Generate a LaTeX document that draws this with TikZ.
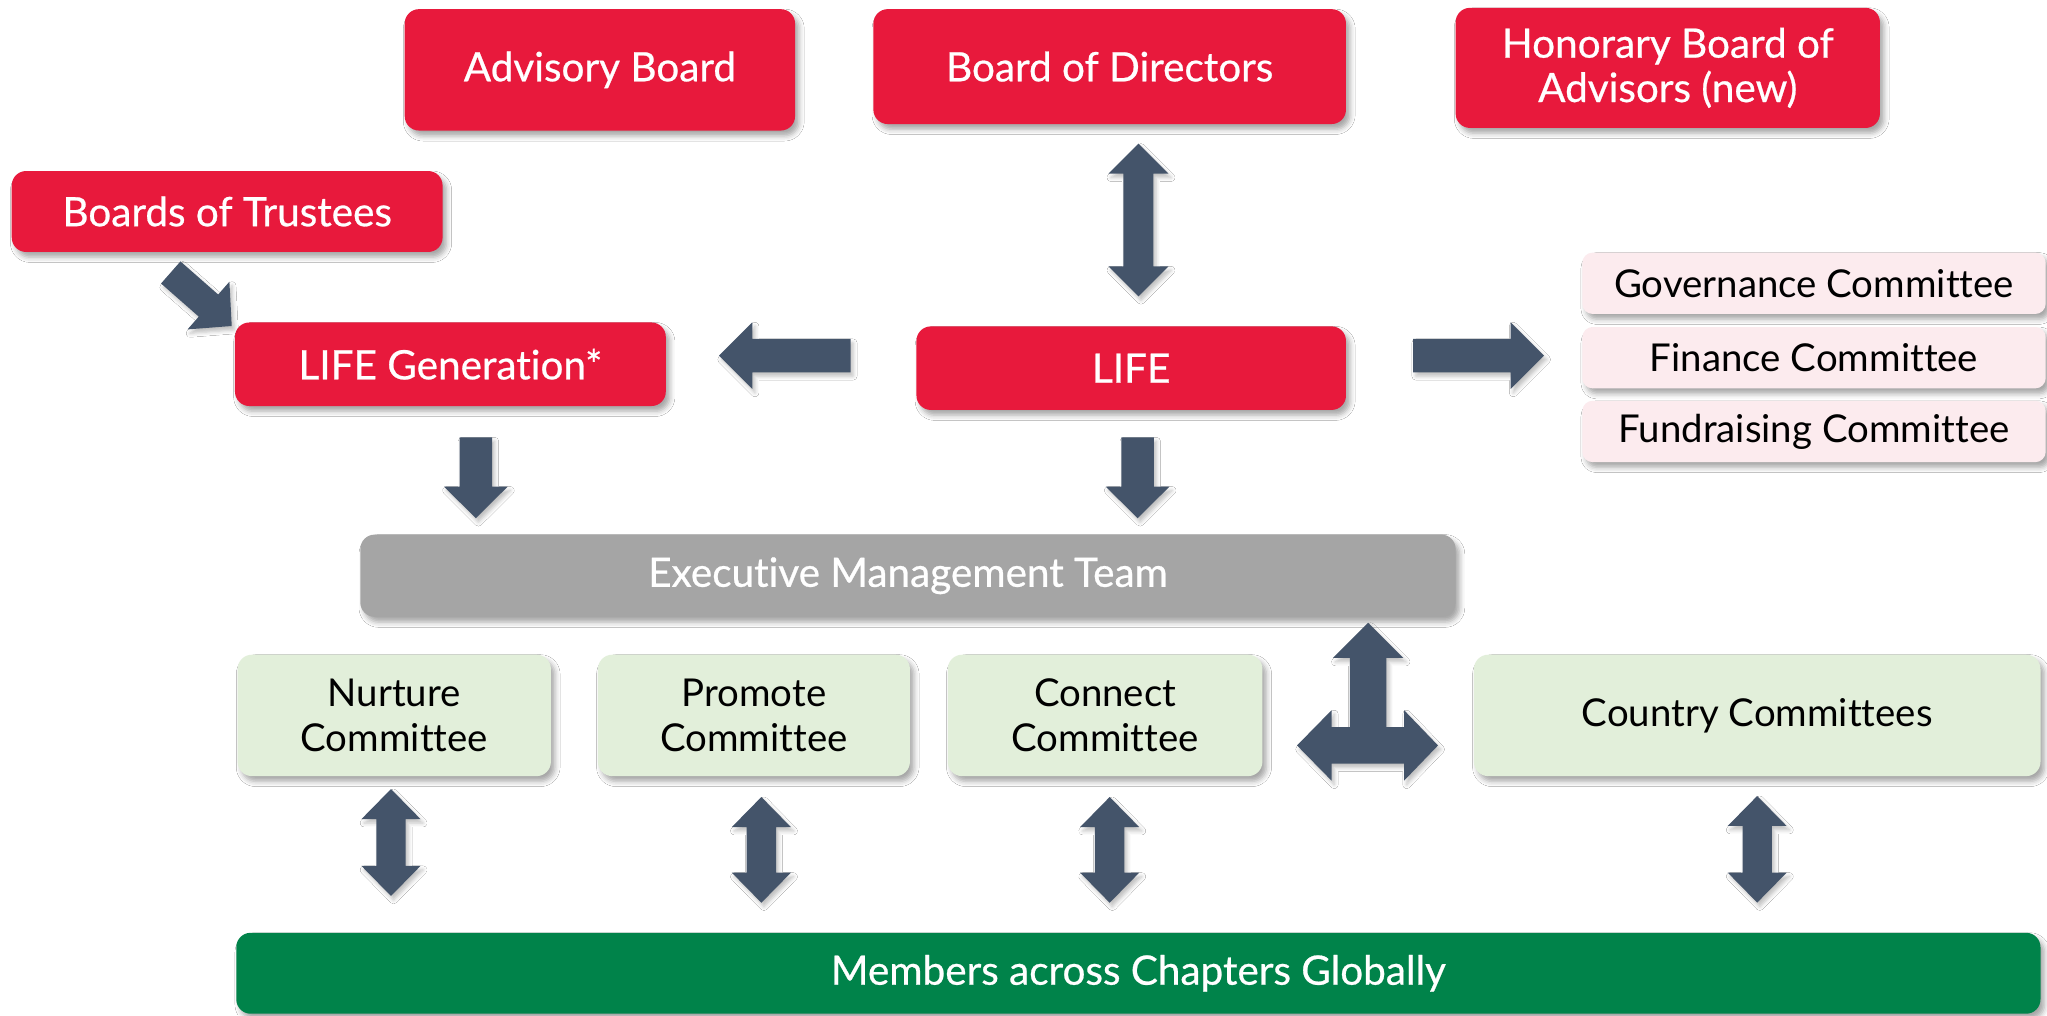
\documentclass[tikz,border=0pt]{standalone}
\usepackage{fontspec}
\setmainfont{Lato}[Ligatures=NoCommon]
\newfontface\medfont{Lato}[FakeBold=0.6,Ligatures=NoCommon]
\usetikzlibrary{calc,shadows.blur}
\definecolor{lifered}{HTML}{E8193C}
\definecolor{arrowc}{HTML}{44546A}
\definecolor{pinkc}{HTML}{FCEBEE}
\definecolor{lgreen}{HTML}{E2EFDA}
\definecolor{emtgray}{HTML}{A5A5A5}
\definecolor{dgreen}{HTML}{00834A}
\tikzset{
  shd/.style={blur shadow={shadow xshift=3pt,shadow yshift=-4pt,shadow blur radius=4pt,shadow opacity=35}},
  box/.style={rectangle, rounded corners=11pt, inner sep=0pt, align=center, shd},
  whitetext/.style={text=white, font=\medfont\fontsize{31}{34}\selectfont},
  blacktext/.style={text=black, font=\fontsize{29.4}{34}\selectfont},
  redbox/.style={box, fill=lifered, whitetext},
  pinkbox/.style={box, rounded corners=8pt, fill=pinkc, blacktext, minimum width=355pt, minimum height=47pt},
  greenbox/.style={box, fill=lgreen, blacktext, minimum height=93pt},
  graybox/.style={box, fill=emtgray, whitetext},
  dgbox/.style={box, fill=dgreen, whitetext},
  arrowsty/.style={fill=arrowc, blur shadow={shadow xshift=2pt,shadow yshift=-3pt,shadow blur radius=3pt,shadow opacity=25}}
}
% #1 tail, #2 tip, #3 shaft half, #4 head half, #5 head length
\newcommand\singlearrow[5]{%
  \coordinate (bac) at ($(#2)!#5!(#1)$);
  \fill[arrowsty] ($(#1)!#3!90:(#2)$) -- ($(bac)!#3!90:(#2)$) -- ($(bac)!#4!90:(#2)$)
    -- (#2) -- ($(bac)!#4!-90:(#2)$) -- ($(bac)!#3!-90:(#2)$) -- ($(#1)!#3!-90:(#2)$) -- cycle;}
% #1 tip A, #2 tip B
\newcommand\doublearrow[5]{%
  \coordinate (bac) at ($(#2)!#5!(#1)$);
  \coordinate (bad) at ($(#1)!#5!(#2)$);
  \fill[arrowsty] (#1) -- ($(bad)!#4!90:(#2)$) -- ($(bad)!#3!90:(#2)$) -- ($(bac)!#3!90:(#2)$) -- ($(bac)!#4!90:(#2)$)
    -- (#2) -- ($(bac)!#4!-90:(#2)$) -- ($(bac)!#3!-90:(#2)$) -- ($(bad)!#3!-90:(#2)$) -- ($(bad)!#4!-90:(#2)$) -- cycle;}
\begin{document}
\begin{tikzpicture}[x=1pt,y=-1pt]
\useasboundingbox[fill=white] (0,0) rectangle (1568,777.5);
% top row
\node[redbox, minimum width=299pt, minimum height=93pt] (ab) at (459.5,53.5) {Advisory Board};
\node[redbox, minimum width=362pt, minimum height=88pt] (bod) at (850,51) {Board of Directors};
\node[redbox, minimum width=325pt, minimum height=92pt] (hba) at (1277.5,52) {Honorary Board of\\Advisors (new)};
\node[redbox, minimum width=330pt, minimum height=62pt] (bot) at (174,162) {Boards of Trustees};
\node[redbox, minimum width=330pt, minimum height=64pt] (lg) at (345,279) {LIFE Generation*};
\node[redbox, minimum width=329pt, minimum height=64pt] (life) at (866.5,282) {LIFE};
% committees right
\node[pinkbox] (gov) at (1389.5,217) {Governance Committee};
\node[pinkbox] (fin) at (1389.5,274) {Finance Committee};
\node[pinkbox] (fund) at (1389.5,330.5) {Fundraising Committee};
% executive
\node[graybox, minimum width=839pt, minimum height=63pt] (emt) at (695.5,441) {Executive Management Team};
% green committees
\node[greenbox, minimum width=240pt] (nur) at (302,548) {Nurture\\Committee};
\node[greenbox, minimum width=239pt] (pro) at (577.5,548) {Promote\\Committee};
\node[greenbox, minimum width=241pt] (con) at (846.5,548) {Connect\\Committee};
\node[greenbox, minimum width=434pt] (cty) at (1346,548) {Country Committees};
% members
\node[dgbox, minimum width=1382pt, minimum height=62pt] (mem) at (872,745.5) {Members across Chapters Globally};
% arrow end points
\coordinate (bodT) at (872,110);
\coordinate (lifeT) at (872,227);
\coordinate (lifeL) at (651.5,272.4);
\coordinate (lgR) at (550.8,272.4);
\coordinate (lifeR) at (1082.5,272.4);
\coordinate (comL) at (1182.7,272.4);
\coordinate (lifeB) at (871.4,335);
\coordinate (emtT) at (871.4,397);
\coordinate (lgB) at (364.5,335);
\coordinate (emtTL) at (364.5,397);
\coordinate (botB) at (130.8,208.7);
\coordinate (lgT) at (177.5,249.7);
\coordinate (nurB) at (299.5,604.4);
\coordinate (memN) at (299.5,686.3);
\coordinate (proB) at (583.2,610.5);
\coordinate (memP) at (583.2,691.5);
\coordinate (conB) at (850,610.5);
\coordinate (memC) at (850,691.5);
\coordinate (ctyB) at (1346,609.7);
\coordinate (memY) at (1346,691.4);
% arrows
\doublearrow{bodT}{lifeT}{11.5pt}{23pt}{23pt}
\singlearrow{lifeL}{lgR}{12.75pt}{25.5pt}{25.5pt}
\singlearrow{lifeR}{comL}{12.75pt}{25.5pt}{25.5pt}
\singlearrow{lifeB}{emtT}{12.5pt}{24.4pt}{24.3pt}
\singlearrow{lgB}{emtTL}{12.5pt}{24.4pt}{24.3pt}
\singlearrow{botB}{lgT}{11.25pt}{24.3pt}{23.7pt}
\doublearrow{nurB}{memN}{11.25pt}{22.6pt}{23pt}
\doublearrow{proB}{memP}{11.25pt}{22.6pt}{23pt}
\doublearrow{conB}{memC}{11.25pt}{22.6pt}{23pt}
\doublearrow{ctyB}{memY}{11.25pt}{22.6pt}{23pt}
% tee arrow between executive team, connect and country committees
\fill[arrowsty] (1048,477) -- (1075,504) -- (1062,504) -- (1062,557) -- (1075.5,557) -- (1075.5,544)
  -- (1101.5,571) -- (1075.5,598) -- (1075.5,585) -- (1020,585) -- (1020,598) -- (993.5,571)
  -- (1020,544) -- (1020,557) -- (1034,557) -- (1034,504) -- (1021,504) -- cycle;
\end{tikzpicture}
\end{document}
